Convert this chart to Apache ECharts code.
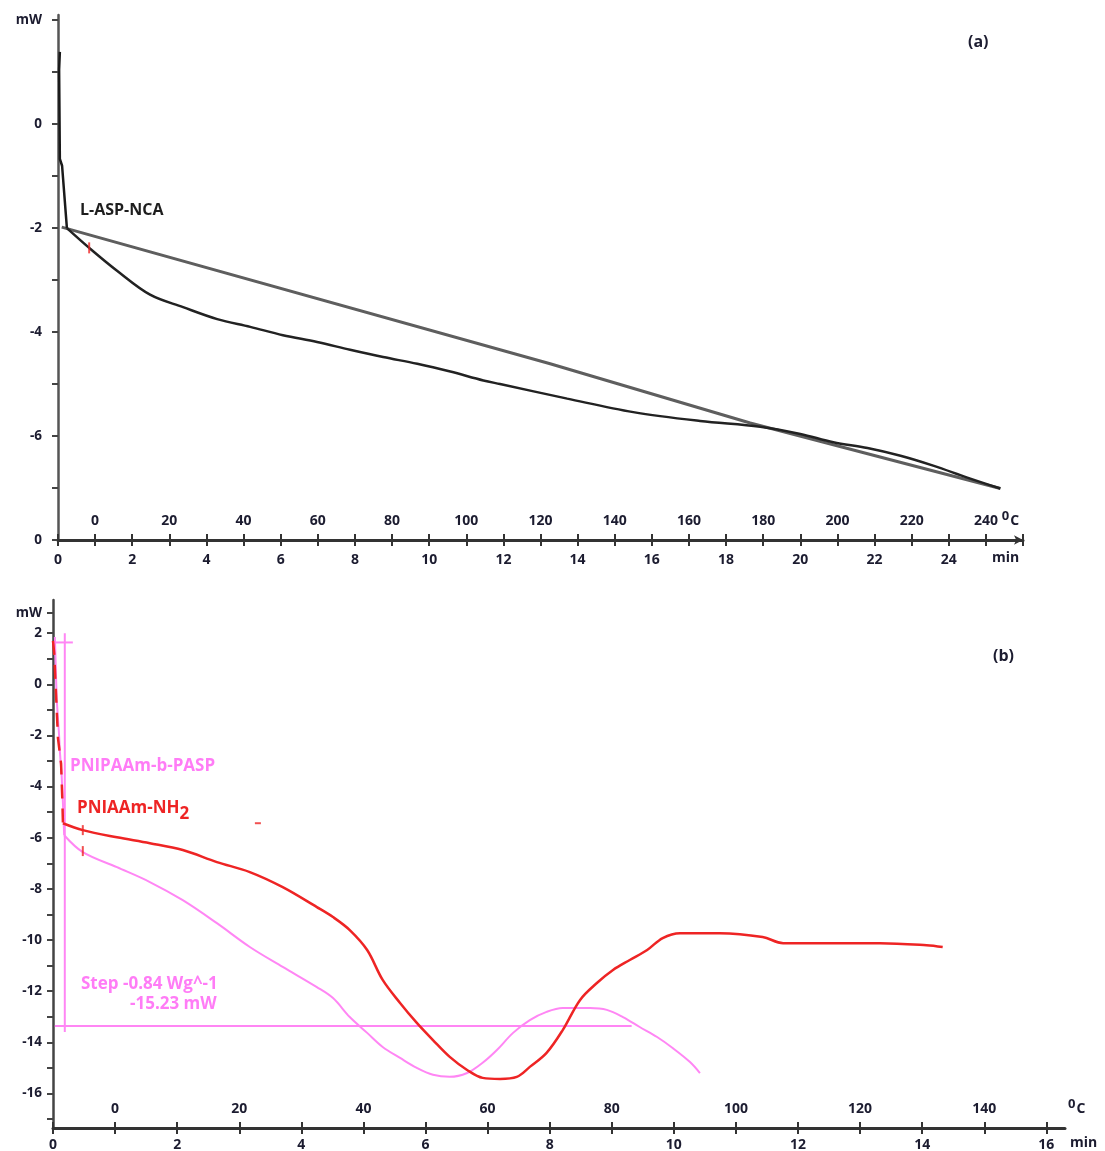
<!DOCTYPE html>
<html><head><meta charset="utf-8">
<script src="https://cdn.jsdelivr.net/npm/echarts@6/dist/echarts.min.js"></script>
<style>html,body{margin:0;padding:0;background:#fff}#c{width:1105px;height:1151px}</style>
</head><body><div id="c"></div>
<script>
// ---------- Panel (a) data : L-ASP-NCA ----------
const aspSpikeT  = [0.05, 0.03, 0.05, 0.11, 0.24];
const aspSpikeMW = [1.39, 1.05, -0.67, -0.80, -2.00];
const aspCurveT  = [0.24, 0.84, 1.59, 2.48, 3.37, 4.29, 5.18, 6.06, 6.98, 7.87, 8.76, 9.68, 10.57, 11.46, 11.91, 13.72, 15.50, 17.30, 18.92, 20.00, 20.89, 21.81, 22.70, 23.58, 24.50, 25.39];
const aspCurveMW = [-2.00, -2.38, -2.82, -3.28, -3.52, -3.75, -3.90, -4.06, -4.19, -4.34, -4.48, -4.61, -4.76, -4.93, -5.00, -5.28, -5.54, -5.71, -5.82, -5.96, -6.12, -6.23, -6.38, -6.57, -6.80, -7.01];
const aspBaseT   = [0.10, 13.26, 18.65, 25.39];
const aspBaseMW  = [-1.98, -4.61, -5.75, -7.01];
const aspMarkT   = [0.84];
const aspMarkMW  = [-2.38];

// ---------- Panel (b) data ----------
const redDropT  = [0.00, 0.02, 0.08, 0.13, 0.15, 0.16];
const redDropMW = [1.70, 1.20, -2.10, -3.10, -4.50, -5.43];
const redT  = [0.16, 0.48, 1.03, 1.56, 2.09, 2.64, 3.17, 3.70, 4.25, 4.51, 4.78, 5.06, 5.31, 5.59, 5.86, 6.12, 6.39, 6.67, 6.92, 7.20, 7.47, 7.68, 7.95, 8.21, 8.49, 8.76, 9.02, 9.29, 9.57, 9.82, 10.10, 10.74, 11.43, 11.76, 13.32, 14.07, 14.33];
const redMW = [-5.43, -5.70, -5.98, -6.21, -6.48, -6.95, -7.34, -7.93, -8.71, -9.10, -9.61, -10.39, -11.56, -12.46, -13.24, -13.91, -14.57, -15.08, -15.39, -15.43, -15.35, -14.96, -14.41, -13.52, -12.34, -11.68, -11.17, -10.78, -10.39, -9.92, -9.73, -9.73, -9.88, -10.12, -10.12, -10.20, -10.27];
const pinkDropT  = [0.03, 0.06, 0.10, 0.11, 0.14, 0.16, 0.18];
const pinkDropMW = [1.85, -0.60, -2.07, -2.60, -3.60, -4.65, -5.90];
const pinkT  = [0.18, 0.48, 1.03, 1.56, 2.09, 2.64, 3.17, 3.70, 4.25, 4.51, 4.78, 5.06, 5.31, 5.59, 5.86, 6.12, 6.39, 6.67, 6.92, 7.15, 7.41, 7.68, 7.95, 8.21, 8.65, 8.92, 9.18, 9.45, 9.73, 9.98, 10.26, 10.42];
const pinkMW = [-5.90, -6.56, -7.15, -7.73, -8.44, -9.34, -10.27, -11.05, -11.84, -12.27, -13.01, -13.63, -14.18, -14.61, -15.00, -15.27, -15.35, -15.20, -14.80, -14.30, -13.63, -13.13, -12.81, -12.66, -12.66, -12.73, -13.01, -13.40, -13.79, -14.22, -14.77, -15.20];
// step-analysis construction lines
const stepVT  = [0.19, 0.19];   const stepVMW = [2.0, -13.6];
const stepHT  = [0.03, 9.32];   const stepHMW = [-13.36, -13.36];
const stepTopT = [0.0, 0.32];   const stepTopMW = [1.64, 1.64];
const redMarkT  = [0.48, 0.48];
const redMarkMW = [-6.52, -5.70];
const strayT = [3.3]; const strayMW = [-5.43];

// ---------- axis tick labels ----------
const minLabelsA  = [0, 2, 4, 6, 8, 10, 12, 14, 16, 18, 20, 22, 24];
const tempLabelsA = [0, 20, 40, 60, 80, 100, 120, 140, 160, 180, 200, 220, 240];
const yLabelValsA = [2, 0, -2, -4, -6, -8];
const yLabelTextA = ['mW', '0', '-2', '-4', '-6', '0'];
const minLabelsB  = [0, 2, 4, 6, 8, 10, 12, 14, 16];
const tempLabelsB = [0, 20, 40, 60, 80, 100, 120, 140];
const yLabelValsB = [2.8, 2, 0, -2, -4, -6, -8, -10, -12, -14, -16];
const yLabelTextB = ['mW', '2', '0', '-2', '-4', '-6', '-8', '-10', '-12', '-14', '-16'];

function steps(a, b, s) { const r = []; for (let v = a; v <= b + 1e-9; v += s) r.push(+v.toFixed(3)); return r; }
function zip(xs, ys) { return xs.map((x, i) => [x, ys[i]]); }

const FONT = "'Open Sans', 'Liberation Sans', sans-serif";
const TXT = '#1c1c30';
const PINK = '#ff86f4';
const PINKTXT = '#ff7cf6';
const RED = '#ee2424';

const lbl = (extra) => Object.assign({ fontFamily: FONT, fontWeight: 'bold', fontSize: 14, color: TXT }, extra);

function minAxis(grid, max, ticks, labels, nameGap, arrow, margin) {
  return {
    gridIndex: grid, type: 'value', min: 0, max: max, position: 'bottom',
    axisLine: { show: true, onZero: false, lineStyle: { color: '#333', width: 3 }, symbol: arrow ? ['none', 'arrow'] : ['none', 'none'], symbolSize: [7, 9] },
    axisTick: { show: true, inside: false, length: 6, customValues: ticks, lineStyle: { color: '#333', width: 2 } },
    axisLabel: lbl({ customValues: labels, margin: margin }),
    splitLine: { show: false },
    name: 'min', nameLocation: 'end', nameGap: nameGap,
    nameTextStyle: lbl({ align: 'left', verticalAlign: 'top', padding: [margin - 2, 0, 0, 0] })
  };
}
function tempAxis(grid, max, ticks, labels, nameGap, margin) {
  return {
    gridIndex: grid, type: 'value', min: -10, max: max, position: 'bottom',
    axisLine: { show: false, onZero: false },
    axisTick: { show: true, inside: true, length: 6, customValues: ticks, lineStyle: { color: '#333', width: 2 } },
    axisLabel: lbl({ inside: true, customValues: labels, margin: margin }),
    splitLine: { show: false },
    name: '{s|0}{c|C}', nameLocation: 'end', nameGap: nameGap,
    nameTextStyle: {
      align: 'left', verticalAlign: 'bottom', padding: [0, 0, margin - 4, 0],
      rich: {
        s: { fontFamily: FONT, fontWeight: 'bold', fontSize: 13, color: TXT, padding: [0, 1, 9, 0] },
        c: { fontFamily: FONT, fontWeight: 'bold', fontSize: 14, color: TXT }
      }
    }
  };
}
function yAxis(grid, min, max, ticks, vals, texts, margin, color) {
  return {
    gridIndex: grid, type: 'value', min: min, max: max,
    axisLine: { show: true, onZero: false, lineStyle: { color: color, width: 2.5 } },
    axisTick: { show: true, inside: false, length: 6, customValues: ticks, lineStyle: { color: '#444', width: 2 } },
    axisLabel: lbl({ fontSize: 13.5, customValues: vals, margin: margin, formatter: v => { const i = vals.findIndex(x => Math.abs(x - v) < 1e-6); return i >= 0 ? texts[i] : ''; } }),
    splitLine: { show: false }
  };
}

const line = (xi, yi, data, color, width, z, smooth, type) => ({
  type: 'line', xAxisIndex: xi, yAxisIndex: yi, data: data, showSymbol: false, symbol: 'none',
  smooth: smooth || false,
  lineStyle: { color: color, width: width, type: type || 'solid' }, z: z || 2, animation: false, silent: true
});

const ticksB = [2.8].concat(steps(-17, 2, 1));

const chart = echarts.init(document.getElementById('c'), null, { renderer: 'canvas' });
chart.setOption({
  backgroundColor: '#fff',
  animation: false,
  grid: [
    { left: 58, top: 15, width: 965, height: 525, containLabel: false, outerBoundsMode: 'none' },
    { left: 53, top: 600, width: 1012, height: 528, containLabel: false, outerBoundsMode: 'none' }
  ],
  xAxis: [
    minAxis(0, 26, steps(0, 26, 1), minLabelsA, -31, true, 13),
    tempAxis(0, 250, steps(-10, 250, 10), tempLabelsA, -27, 12),
    minAxis(1, 16.3, steps(0, 16, 1), minLabelsB, 5, false, 10),
    tempAxis(1, 153, steps(-10, 150, 10), tempLabelsB, 3, 12)
  ],
  yAxis: [
    yAxis(0, -8, 2.1, steps(-8, 2, 1), yLabelValsA, yLabelTextA, 16, '#555'),
    yAxis(1, -17.35, 3.3, ticksB, yLabelValsB, yLabelTextB, 11, '#444')
  ],
  series: [
    line(0, 0, zip(aspBaseT, aspBaseMW), '#5e5e5e', 3, 2),
    line(0, 0, zip(aspSpikeT, aspSpikeMW), '#1a1a1a', 2.5, 3),
    line(0, 0, zip(aspCurveT, aspCurveMW), '#222', 2.5, 3, 0.35),
    { type: 'scatter', xAxisIndex: 0, yAxisIndex: 0, data: zip(aspMarkT, aspMarkMW), symbol: 'rect', symbolSize: [2, 11], itemStyle: { color: RED }, z: 4, silent: true },
    line(2, 1, zip(stepVT, stepVMW), PINK, 2, 1),
    line(2, 1, zip(stepHT, stepHMW), PINK, 2, 1),
    line(2, 1, zip(stepTopT, stepTopMW), PINK, 2, 1),
    line(2, 1, zip(pinkDropT, pinkDropMW), PINK, 2, 3),
    line(2, 1, zip(pinkT, pinkMW), PINK, 2, 3, 0.35),
    line(2, 1, zip(redDropT, redDropMW), RED, 2.5, 4, false, [14, 10]),
    line(2, 1, zip(redT, redMW), RED, 2.5, 4, 0.35),
    { type: 'scatter', xAxisIndex: 2, yAxisIndex: 1, data: zip(redMarkT, redMarkMW), symbol: 'rect', symbolSize: [2, 10], itemStyle: { color: RED }, z: 5, silent: true },
    { type: 'scatter', xAxisIndex: 2, yAxisIndex: 1, data: zip(strayT, strayMW), symbol: 'rect', symbolSize: [6, 2], itemStyle: { color: RED }, z: 5, silent: true }
  ],
  graphic: [
    { type: 'text', left: 968, top: 34, style: { text: '(a)', font: "bold 16px 'Open Sans'", fill: TXT } },
    { type: 'text', left: 993, top: 648, style: { text: '(b)', font: "bold 16px 'Open Sans'", fill: TXT } },
    { type: 'text', left: 80, top: 202, style: { text: 'L-ASP-NCA', font: "bold 16px 'Open Sans'", fill: '#1e1e1e' } },
    { type: 'text', left: 70, top: 758, style: { text: 'PNIPAAm-b-PASP', font: "bold 17px 'Open Sans'", fill: PINKTXT } },
    { type: 'text', left: 77, top: 800, style: { text: '{a|PNIAAm-NH}{b|2}', rich: {
        a: { fontFamily: FONT, fontWeight: 'bold', fontSize: 17, fill: RED, color: RED },
        b: { fontFamily: FONT, fontWeight: 'bold', fontSize: 17, fill: RED, color: RED, padding: [12, 0, 0, 0] } } } },
    { type: 'text', left: 81, top: 976, style: { text: 'Step -0.84 Wg^-1', font: "bold 17px 'Open Sans'", fill: PINKTXT } },
    { type: 'text', left: 130, top: 996, style: { text: '-15.23 mW', font: "bold 17px 'Open Sans'", fill: PINKTXT } }
  ]
});
</script></body></html>
